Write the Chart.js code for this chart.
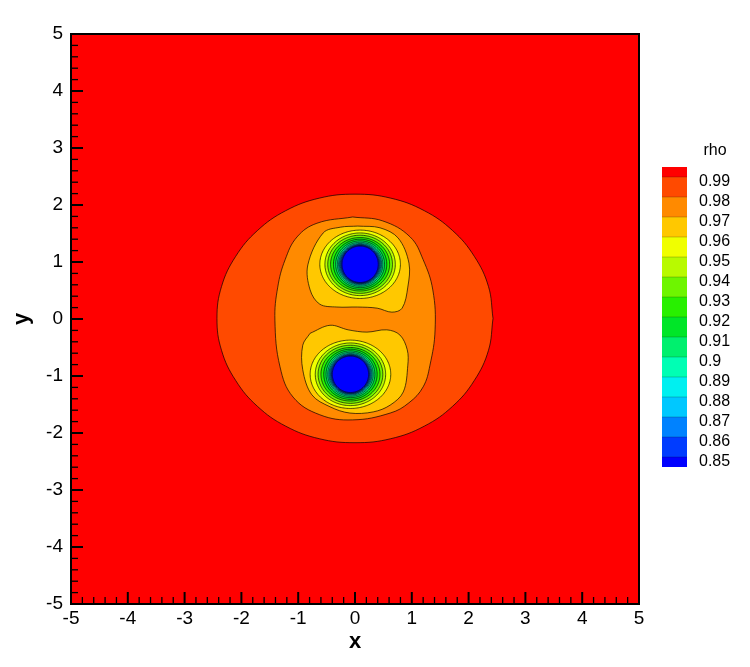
<!DOCTYPE html>
<html>
<head>
<meta charset="utf-8">
<script src="https://cdn.jsdelivr.net/npm/chart.js@4.4.0/dist/chart.umd.min.js"></script>
<style>
html,body{margin:0;padding:0;background:#fff;}
#wrap{position:relative;width:750px;height:667px;}
</style>
</head>
<body>
<div id="wrap"><canvas id="c" width="750" height="667"></canvas></div>
<script>
// ---------- data ----------
const xTickValues = [-5,-4,-3,-2,-1,0,1,2,3,4,5];
const yTickValues = [-5,-4,-3,-2,-1,0,1,2,3,4,5];
const minorStep = 0.2;
const colorbarTitle = 'rho';
const levels = [0.99,0.98,0.97,0.96,0.95,0.94,0.93,0.92,0.91,0.9,0.89,0.88,0.87,0.86,0.85];
const bandColors = ['#ff0000','#ff4a00','#ff8a00','#ffc800','#f0ff00','#b8fa00','#6ef500',
  '#28f000','#00e628','#00f06e','#00ffb4','#00f0f0','#00c8ff','#0082ff','#003cff','#0000ff'];

// domain boundary (value > 0.99 everywhere outside the contours)
const domainX = [-5, 5, 5, -5, -5];
const domainY = [-5, -5, 5, 5, -5];

// contour 0.99 (outer ellipse)
const c099x = [2.43,2.35,2.10,1.72,1.22,0.63,0,-0.63,-1.22,-1.72,-2.10,-2.35,-2.43,-2.35,-2.10,-1.72,-1.22,-0.63,0,0.63,1.22,1.72,2.10,2.35,2.43];
const c099y = [0.01,0.57,1.10,1.55,1.90,2.12,2.19,2.12,1.90,1.55,1.10,0.57,0.01,-0.55,-1.08,-1.53,-1.88,-2.10,-2.17,-2.10,-1.88,-1.53,-1.08,-0.55,0.01];

// contour 0.98 (egg shape)
const c098x = [-0.04,0.49,0.97,1.20,1.37,1.41,1.32,1.20,0.95,0.62,-0.04,-0.62,-1.09,-1.32,-1.41,-1.36,-1.23,-1.02,-0.67,-0.04];
const c098y = [1.79,1.72,1.44,1.04,0.51,-0.19,-0.81,-1.19,-1.47,-1.65,-1.77,-1.68,-1.37,-0.84,-0.02,0.56,1.04,1.44,1.68,1.79];

// contour 0.97 (two lobes)
const c097TopX = [0.05,0.44,0.76,0.95,0.93,0.83,0.65,0.39,0.04,-0.32,-0.62,-0.79,-0.83,-0.56,-0.26,0.05];
const c097TopY = [1.63,1.60,1.42,0.98,0.56,0.19,0.12,0.19,0.21,0.21,0.26,0.51,0.95,1.51,1.61,1.63];
const c097BotX = [-0.79,-0.44,-0.12,0.21,0.56,0.79,0.92,0.93,0.85,0.62,0.32,-0.09,-0.44,-0.76,-0.92,-0.92,-0.79];
const c097BotY = [-0.25,-0.11,-0.19,-0.23,-0.19,-0.28,-0.54,-0.81,-1.28,-1.51,-1.63,-1.65,-1.54,-1.33,-0.89,-0.46,-0.25];

// inner rings around the two low-density cores (0.96 ... 0.85)
const ringLevels = [0.96,0.95,0.94,0.93,0.92,0.91,0.9,0.89,0.88,0.87,0.86,0.85];
const coreCenterX = [0.09,-0.08];
const coreCenterY = [0.96,-0.97];
const ringRadiusX = [0.71,0.62,0.57,0.52,0.47,0.43,0.40,0.38,0.365,0.35,0.335,0.32];
const ringRadiusY = [0.60,0.55,0.51,0.47,0.44,0.41,0.385,0.365,0.35,0.34,0.33,0.32];

// ---------- build datasets ----------
function zip(xs, ys){ return xs.map((v,i)=>({x:v, y:ys[i]})); }
function ringPoints(cx, cy, rx, ry){
  const pts = [];
  const n = 60;
  for (let k=0;k<=n;k++){
    const t = 2*Math.PI*k/n;
    pts.push({x: cx + rx*Math.cos(t), y: cy + ry*Math.sin(t)});
  }
  return pts;
}
function region(label, pts, color, line, tension){
  return {
    label, data: pts, showLine: true, fill: 'shape',
    backgroundColor: color, borderColor: line ? 'rgba(0,0,0,0.85)' : 'rgba(0,0,0,0)',
    borderWidth: line ? 0.8 : 0, pointRadius: 0, pointHoverRadius: 0, tension: tension
  };
}
function bandColor(level){ return bandColors[levels.indexOf(level) + 1]; }

const datasets = [];
datasets.push(region('domain', zip(domainX, domainY), bandColors[0], false, 0));
datasets.push(region('0.99', zip(c099x, c099y), bandColor(0.99), true, 0.4));
datasets.push(region('0.98', zip(c098x, c098y), bandColor(0.98), true, 0.4));
datasets.push(region('0.97 top', zip(c097TopX, c097TopY), bandColor(0.97), true, 0.35));
datasets.push(region('0.97 bottom', zip(c097BotX, c097BotY), bandColor(0.97), true, 0.35));
ringLevels.forEach((lv, i) => {
  for (let c=0;c<coreCenterX.length;c++){
    datasets.push(region(lv+'/'+c, ringPoints(coreCenterX[c], coreCenterY[c], ringRadiusX[i], ringRadiusY[i]), bandColor(lv), true, 0.05));
  }
});
datasets.forEach((d,i)=>{ d.order = datasets.length - i; });

// ---------- plugins ----------
const frameTicks = {
  id: 'frameTicks',
  afterDatasetsDraw(chart){
    const {ctx, chartArea: a, scales: {x, y}} = chart;
    ctx.save();
    ctx.strokeStyle = '#000';
    ctx.lineCap = 'butt';
    function seg(x1,y1,x2,y2,w){ ctx.lineWidth=w; ctx.beginPath(); ctx.moveTo(x1,y1); ctx.lineTo(x2,y2); ctx.stroke(); }
    xTickValues.forEach((v,i)=>{
      const px = x.getPixelForValue(v);
      seg(px, a.bottom, px, a.bottom-12, 2);
      if (i < xTickValues.length-1){
        for (let m=1;m<5;m++){
          const mp = x.getPixelForValue(v + m*minorStep);
          seg(mp, a.bottom, mp, a.bottom-7, 1.3);
        }
      }
    });
    yTickValues.forEach((v,i)=>{
      const py = y.getPixelForValue(v);
      seg(a.left, py, a.left+12, py, 2);
      if (i < yTickValues.length-1){
        for (let m=1;m<5;m++){
          const mp = y.getPixelForValue(v + m*minorStep);
          seg(a.left, mp, a.left+7, mp, 1.3);
        }
      }
    });
    ctx.lineWidth = 2;
    ctx.strokeRect(a.left, a.top, a.right-a.left, a.bottom-a.top);
    ctx.restore();
  }
};

const colorbar = {
  id: 'colorbar',
  afterDraw(chart){
    const ctx = chart.ctx;
    ctx.save();
    const bx = 662, bw = 25, top = 167, full = 20, half = 10;
    let yy = top;
    bandColors.forEach((col, i) => {
      const h = (i === 0 || i === bandColors.length-1) ? half : full;
      ctx.fillStyle = col;
      ctx.fillRect(bx, yy, bw, h);
      if (i > 0){
        ctx.strokeStyle = 'rgba(0,0,0,0.35)';
        ctx.lineWidth = 0.6;
        ctx.beginPath(); ctx.moveTo(bx, yy); ctx.lineTo(bx+bw, yy); ctx.stroke();
      }
      yy += h;
    });
    ctx.fillStyle = '#000';
    ctx.font = "16px 'Liberation Sans', Arial, sans-serif";
    ctx.textBaseline = 'middle';
    ctx.textAlign = 'left';
    levels.forEach((lv, k) => {
      ctx.fillText(String(lv), 699, 182 + full*k);
    });
    ctx.textAlign = 'center';
    ctx.fillText(colorbarTitle, 715, 151);
    ctx.restore();
  }
};

// ---------- chart ----------
const tickFont = {family: "'Liberation Sans', Arial, sans-serif", size: 19};
new Chart(document.getElementById('c'), {
  type: 'scatter',
  data: { datasets },
  options: {
    responsive: false,
    animation: false,
    events: [],
    layout: { padding: { left: 0, right: 111, top: 34, bottom: 0 } },
    plugins: { legend: { display: false }, tooltip: { enabled: false } },
    scales: {
      x: {
        type: 'linear', min: -5, max: 5,
        afterFit(s){ s.height = 63; },
        grid: { display: true, drawOnChartArea: false, drawTicks: false },
        border: { display: false },
        ticks: { stepSize: 1, color: '#000', font: tickFont, padding: 3, maxRotation: 0,
                 callback: v => String(v) },
        title: { display: true, text: 'x', color: '#000',
                 font: {family: "'Liberation Sans', Arial, sans-serif", size: 22, weight: 'bold'},
                 padding: {top: 0, bottom: 12} }
      },
      y: {
        type: 'linear', min: -5, max: 5,
        afterFit(s){ s.width = 71; },
        grid: { display: true, drawOnChartArea: false, drawTicks: false },
        border: { display: false },
        ticks: { stepSize: 1, color: '#000', font: tickFont, padding: 8,
                 callback: v => String(v) },
        title: { display: true, text: 'y', color: '#000',
                 font: {family: "'Liberation Sans', Arial, sans-serif", size: 22, weight: 'bold'},
                 padding: {top: 9, bottom: 0} }
      }
    }
  },
  plugins: [frameTicks, colorbar]
});
</script>
</body>
</html>
